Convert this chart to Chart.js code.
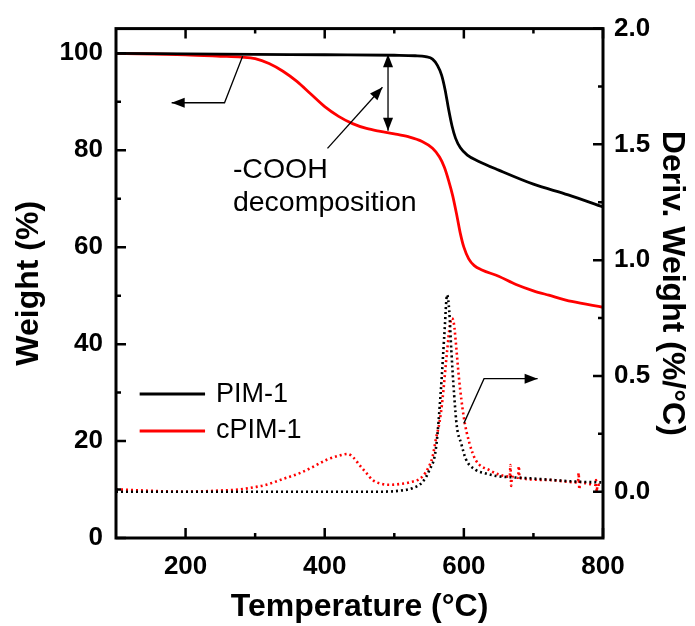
<!DOCTYPE html>
<html>
<head>
<meta charset="utf-8">
<script src="https://cdn.jsdelivr.net/npm/chart.js@4.4.1/dist/chart.umd.min.js"></script>
<style>body{margin:0;background:#fff}</style>
</head>
<body>
<canvas id="chart" width="695" height="626"></canvas>
<script>
var seriesNames = ['PIM-1', 'cPIM-1'];
var xTicks = [200, 400, 600, 800];
var xMinor = [300, 500, 700];
var weightTicks = [0, 20, 40, 60, 80, 100];
var weightMinor = [10, 30, 50, 70, 90];
var derivTicks = [0.0, 0.5, 1.0, 1.5, 2.0];
var derivMinor = [0.25, 0.75, 1.25, 1.75];

// weight curves (left axis)
var pimTemp = [100, 200, 300, 400, 500, 530, 545, 555, 562, 568, 573, 578, 583, 588, 595, 605, 620, 650, 700, 750, 800];
var pimWeight = [100, 99.9, 99.8, 99.7, 99.6, 99.5, 99.3, 98.8, 97.5, 95.5, 92.5, 88.5, 85, 82.5, 80.5, 79, 77.8, 75.9, 73, 70.8, 68.3];

var cpimTemp = [100, 200, 250, 280, 300, 320, 340, 360, 380, 400, 420, 440, 460, 480, 500, 520, 540, 555, 565, 572, 578, 584, 590, 595, 600, 607, 615, 626, 650, 675, 700, 722, 755, 800];
var cpimWeight = [100, 99.7, 99.4, 99.2, 98.9, 97.9, 96.3, 94.2, 91.6, 89.0, 87.0, 85.5, 84.5, 83.9, 83.4, 82.8, 81.8, 80.4, 78.6, 76.5, 73.8, 70.6, 66.5, 62.8, 60, 57.6, 56.2, 55.3, 54, 52.3, 51, 50.1, 48.8, 47.6];

// derivative curves (right axis)
var pimDerivTemp = [100, 200, 300, 400, 480, 510, 526, 540, 550, 560, 567, 572, 576, 579, 582, 586, 590, 596, 603, 617, 630, 646, 670, 694, 730, 765, 800];
var pimDeriv = [0.0, 0.0, 0.0, 0.0, 0.0, 0.005, 0.015, 0.04, 0.09, 0.19, 0.44, 0.68, 0.85, 0.78, 0.61, 0.42, 0.28, 0.21, 0.14, 0.094, 0.08, 0.068, 0.062, 0.058, 0.05, 0.043, 0.04];

var cpimDerivTemp = [100, 200, 250, 278, 300, 316, 340, 364, 385, 402, 420, 433, 442, 450, 460, 469, 480, 493, 508, 522, 540, 550, 555, 560, 565, 569, 576, 580, 583, 586, 588, 593, 600, 608, 617, 636, 666, 667, 668, 669, 678, 679, 680, 718, 764, 765, 766, 767, 789, 790, 791, 792, 800];
var cpimDeriv = [0.01, 0.0, 0.005, 0.01, 0.02, 0.03, 0.055, 0.08, 0.11, 0.137, 0.155, 0.163, 0.145, 0.115, 0.08, 0.05, 0.035, 0.03, 0.033, 0.04, 0.064, 0.11, 0.15, 0.23, 0.3, 0.39, 0.61, 0.72, 0.75, 0.72, 0.66, 0.49, 0.32, 0.21, 0.137, 0.094, 0.065, 0.115, 0.025, 0.064, 0.06, 0.11, 0.06, 0.051, 0.04, 0.08, 0.01, 0.04, 0.03, 0.05, 0.0, 0.03, 0.03];

function pts(xs, ys) {
  var out = [];
  for (var i = 0; i < xs.length; i++) out.push({x: xs[i], y: ys[i]});
  return out;
}

var FONT = "Arial, 'Liberation Sans', sans-serif";

function head(ctx, tip, from) {
  var ang = Math.atan2(tip[1] - from[1], tip[0] - from[0]);
  ctx.beginPath();
  ctx.moveTo(tip[0], tip[1]);
  ctx.lineTo(tip[0] - 13 * Math.cos(ang) + 5 * Math.sin(ang), tip[1] - 13 * Math.sin(ang) - 5 * Math.cos(ang));
  ctx.lineTo(tip[0] - 13 * Math.cos(ang) - 5 * Math.sin(ang), tip[1] - 13 * Math.sin(ang) + 5 * Math.cos(ang));
  ctx.closePath();
  ctx.fill();
}

function arrow(ctx, p, both) {
  ctx.beginPath();
  ctx.moveTo(p[0][0], p[0][1]);
  for (var i = 1; i < p.length; i++) ctx.lineTo(p[i][0], p[i][1]);
  ctx.stroke();
  head(ctx, p[p.length - 1], p[p.length - 2]);
  if (both) head(ctx, p[0], p[1]);
}

var decor = {
  id: 'decor',
  afterDraw: function (chart) {
    var ctx = chart.ctx;
    var a = chart.chartArea;
    var sx = chart.scales.x, sy = chart.scales.y, sy2 = chart.scales.y2;
    ctx.save();
    ctx.strokeStyle = '#000';
    ctx.fillStyle = '#000';
    // frame
    ctx.lineWidth = 3;
    ctx.strokeRect(a.left, a.top, a.right - a.left, a.bottom - a.top);
    // inward ticks
    ctx.lineWidth = 2.5;
    ctx.beginPath();
    xTicks.forEach(function (v) {
      var px = sx.getPixelForValue(v);
      ctx.moveTo(px, a.bottom); ctx.lineTo(px, a.bottom - 10);
      ctx.moveTo(px, a.top); ctx.lineTo(px, a.top + 10);
    });
    xMinor.forEach(function (v) {
      var px = sx.getPixelForValue(v);
      ctx.moveTo(px, a.bottom); ctx.lineTo(px, a.bottom - 5);
      ctx.moveTo(px, a.top); ctx.lineTo(px, a.top + 5);
    });
    weightTicks.forEach(function (v) {
      var py = sy.getPixelForValue(v);
      ctx.moveTo(a.left, py); ctx.lineTo(a.left + 10, py);
    });
    weightMinor.forEach(function (v) {
      var py = sy.getPixelForValue(v);
      ctx.moveTo(a.left, py); ctx.lineTo(a.left + 5, py);
    });
    derivTicks.forEach(function (v) {
      var py = sy2.getPixelForValue(v);
      ctx.moveTo(a.right, py); ctx.lineTo(a.right - 10, py);
    });
    derivMinor.forEach(function (v) {
      var py = sy2.getPixelForValue(v);
      ctx.moveTo(a.right, py); ctx.lineTo(a.right - 5, py);
    });
    ctx.stroke();

    function P(t, w) { return [sx.getPixelForValue(t), sy.getPixelForValue(w)]; }
    function Q(t, d) { return [sx.getPixelForValue(t), sy2.getPixelForValue(d)]; }

    // annotations
    ctx.lineWidth = 1.3;
    arrow(ctx, [P(282, 99.4), P(256, 89.8), P(180, 89.8)]);
    arrow(ctx, [P(491, 99.8), P(491, 84)], true);
    arrow(ctx, [P(404, 80.4), P(483, 93.0)]);
    arrow(ctx, [Q(600, 0.295), Q(629, 0.488), Q(706, 0.488)]);

    ctx.font = '28.5px ' + FONT;
    ctx.textBaseline = 'middle';
    ctx.textAlign = 'left';
    var t1 = P(268, 75.9), t2 = P(268, 69.1);
    ctx.fillText('-COOH', t1[0], t1[1]);
    ctx.fillText('decomposition', t2[0], t2[1]);

    // legend
    ctx.font = '27px ' + FONT;
    var ds = chart.data.datasets;
    var rows = [29.7, 22.1];
    for (var i = 0; i < 2; i++) {
      var l0 = P(134, rows[i]), l1 = P(228, rows[i]);
      ctx.strokeStyle = ds[i].borderColor;
      ctx.lineWidth = 3;
      ctx.beginPath();
      ctx.moveTo(l0[0], l0[1]); ctx.lineTo(l1[0], l1[1]);
      ctx.stroke();
      ctx.fillStyle = '#000';
      ctx.fillText(seriesNames[i], l1[0] + 11, l1[1]);
    }
    ctx.restore();
  }
};

var tickFont = {family: FONT, size: 26, weight: 'bold'};
var titleFont = {family: FONT, size: 32, weight: 'bold'};

var ctx = document.getElementById('chart').getContext('2d');
new Chart(ctx, {
  type: 'line',
  data: {
    datasets: [{
      label: seriesNames[0],
      data: pts(pimTemp, pimWeight),
      yAxisID: 'y',
      borderColor: '#000000',
      borderWidth: 2.8
    }, {
      label: seriesNames[1],
      data: pts(cpimTemp, cpimWeight),
      yAxisID: 'y',
      borderColor: '#ff0000',
      borderWidth: 2.8
    }, {
      label: seriesNames[0] + ' deriv',
      data: pts(pimDerivTemp, pimDeriv),
      yAxisID: 'y2',
      borderColor: '#000000',
      borderWidth: 2.6,
      borderDash: [2, 3]
    }, {
      label: seriesNames[1] + ' deriv',
      data: pts(cpimDerivTemp, cpimDeriv),
      yAxisID: 'y2',
      borderColor: '#ff0000',
      borderWidth: 2.6,
      borderDash: [2, 3]
    }]
  },
  options: {
    responsive: false,
    animation: false,
    layout: {padding: {top: 24, left: 0, right: 0, bottom: 0}},
    elements: {
      point: {radius: 0},
      line: {cubicInterpolationMode: 'monotone', fill: false}
    },
    plugins: {legend: {display: false}, tooltip: {enabled: false}},
    scales: {
      x: {
        type: 'linear',
        position: 'bottom',
        min: 100,
        max: 800,
        afterBuildTicks: function (s) { s.ticks = xTicks.map(function (v) { return {value: v}; }); },
        afterFit: function (s) { s.height = 88; },
        grid: {display: false, drawTicks: false},
        border: {display: false},
        ticks: {color: '#000', padding: 13, maxRotation: 0, font: tickFont},
        title: {display: true, text: 'Temperature (°C)', color: '#000', padding: {top: 0, bottom: 0}, font: titleFont}
      },
      y: {
        position: 'left',
        min: 0,
        max: 105.1,
        afterBuildTicks: function (s) { s.ticks = weightTicks.map(function (v) { return {value: v}; }); },
        afterFit: function (s) { s.width = 116; },
        grid: {display: false, drawTicks: false},
        border: {display: false},
        ticks: {color: '#000', padding: 13, font: tickFont},
        title: {display: true, text: 'Weight (%)', color: '#000', padding: {top: 10, bottom: 0}, font: titleFont}
      },
      y2: {
        position: 'right',
        min: -0.2,
        max: 2.0,
        afterBuildTicks: function (s) { s.ticks = derivTicks.map(function (v) { return {value: v}; }); },
        afterFit: function (s) { s.width = 92; },
        grid: {display: false, drawTicks: false},
        border: {display: false},
        ticks: {color: '#000', padding: 11, font: tickFont,
          callback: function (v) { return Number(v).toFixed(1); }},
        title: {display: true, text: 'Deriv. Weight (%/°C)', color: '#000', padding: {top: 4, bottom: 0}, font: titleFont}
      }
    }
  },
  plugins: [decor]
});
</script>
</body>
</html>
